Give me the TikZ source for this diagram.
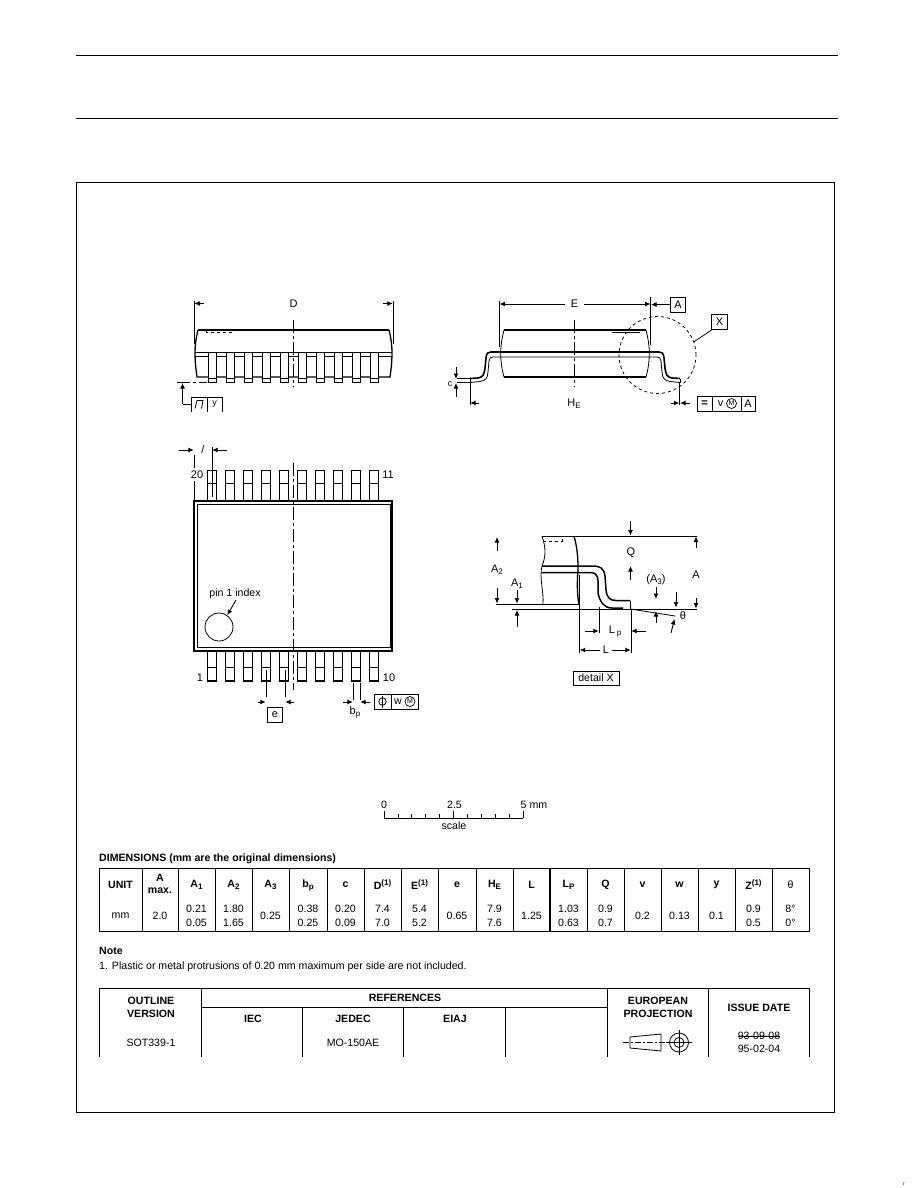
\documentclass[tikz,border=0pt]{standalone}
\usepackage{fontspec}
\setmainfont{Liberation Sans}
\usetikzlibrary{arrows.meta}
\newcommand{\subs}[1]{\raisebox{-0.35ex}{\fontsize{8}{9}\selectfont #1}}
\newcommand{\sups}[1]{\raisebox{0.7ex}{\fontsize{8}{9}\selectfont #1}}
\tikzstyle{thinline}=[line width=0.8pt]
\tikzstyle{thickline}=[line width=2pt]
\tikzstyle{midline}=[line width=1.3pt]
\tikzstyle{centerline}=[line width=0.8pt,dash pattern=on 13pt off 3pt on 3pt off 3pt]
\tikzstyle{dimedge}=[-{Latex[length=5.5pt,width=5pt]},line width=0.9pt]
\tikzstyle{dimtext}=[font=\fontsize{11}{13}\selectfont,inner sep=0pt]
\tikzstyle{smalltext}=[font=\fontsize{10.6}{12}\selectfont,inner sep=0pt]
\tikzstyle{headtext}=[font=\fontsize{10.6}{12}\selectfont\bfseries,inner sep=0pt]
\tikzstyle{markcircle}=[circle,draw,line width=0.7pt,inner sep=0pt,minimum size=10pt,font=\fontsize{7}{8}\selectfont]
\begin{document}
\begin{tikzpicture}[x=1pt,y=-1pt]
\useasboundingbox (0,0) rectangle (918,1188);
% page rules and frame
\draw[thinline] (76,55) -- (838,55);
\draw[thinline] (76,118) -- (838,118);
\draw[thinline] (76,182) rectangle (834,1112);
% front view
\draw[thickline] (198,330) -- (389,330);
\draw[midline] (198,330) .. controls (196,338) and (195,345) .. (195,352) .. controls (195,362) and (196,370) .. (197,377) -- (390,377) .. controls (391,370) and (392,362) .. (392,352) .. controls (392,345) and (391,338) .. (389,330);
\draw[thinline,dashed] (206,331) -- (206,332.5) -- (233,332.5) -- (233,331);
\draw[thinline] (195,352) -- (392,352);
\draw[thinline] (195,356) -- (392,356);
\foreach \i in {0,...,9}{
  \fill[white] (208.7+18*\i,352) rectangle (216.7+18*\i,382);
  \draw[thinline] (208.7+18*\i,352) rectangle (216.7+18*\i,382);
  \draw[thinline] (208.7+18*\i,378) -- (216.7+18*\i,378);
  \draw[midline] (216.7+18*\i,356) -- (216.7+18*\i,382);
}
\draw[centerline] (293.3,320) -- (293.3,387);
\draw[thinline] (194.3,301) -- (194.3,344);
\draw[thinline] (393,301) -- (393,344);
\draw[dimedge] (204,303.5) -- (194.5,303.5);
\draw[dimedge] (383,303.5) -- (392.8,303.5);
\node[dimtext] (labelD) at (293.5,303.5) {D};
\draw[centerline] (177,382) -- (207,382);
\draw[dimedge] (182.5,404) -- (182.5,383);
\draw[thinline] (182.5,404) -- (191,404);
\draw[thinline] (191,412) -- (191,397) -- (222,397) -- (222,412);
\draw[thinline] (207,397) -- (207,412);
\draw[thinline] (195,408.5) -- (197,400.5) -- (203,400.5) -- (201.5,408.5);
\node[dimtext] (labelFlatY) at (214.5,404.5) {\fontsize{9}{10}\selectfont y};
% side view
\draw[midline] (504,330) -- (646,330);
\draw[midline] (504,377) -- (646,377);
\draw[thinline] (504,330) .. controls (502,338) and (500.7,345) .. (500.7,353) .. controls (500.7,362) and (502,370) .. (504,377);
\draw[thinline] (646,330) .. controls (648,338) and (649.3,345) .. (649.3,353) .. controls (649.3,362) and (648,370) .. (646,377);
\draw[thinline] (612,332) -- (640,332);
\draw[line width=1.6pt] (470,378.5) -- (478,378) .. controls (483,377) and (484,375) .. (485,368) -- (486,358) .. controls (486.5,353) and (488,352) .. (491,352) -- (659,352) .. controls (662,352) and (663.5,353) .. (664,358) -- (665,368) .. controls (666,375) and (667,377) .. (672,378) -- (680,378.5);
\draw[thinline] (470,382.5) -- (480,381.5) .. controls (486,380.5) and (487.5,378) .. (488,372) -- (489,361) .. controls (489.5,358) and (490.5,357) .. (493,357) -- (657,357) .. controls (659.5,357) and (660.5,358) .. (661,361) -- (662,372) .. controls (662.5,378) and (664,380.5) .. (670,381.5) -- (680,382.5);
\draw[thinline] (470,378.5) -- (470,382.5);
\draw[thinline] (680,378.5) -- (680,382.5);
\draw[centerline] (574,320) -- (574,387);
\node[draw,circle,dashed,thinline,minimum size=77pt,inner sep=0pt] (circleX) at (657.5,355) {};
\node[draw,thinline,minimum size=15.5pt,inner sep=0pt,dimtext] (boxX) at (719.5,322) {X};
\draw[thinline] (circleX.20) -- (boxX.south west);
\draw[thinline] (499.3,301) -- (499.3,347);
\draw[thinline] (650.7,297) -- (650.7,345);
\node[dimtext] (labelE) at (574.5,304) {E};
\draw[dimedge] (565,304) -- (499.5,304);
\draw[dimedge] (584,304) -- (650.5,304);
\node[draw,thinline,minimum size=15pt,inner sep=0pt,dimtext] (boxA) at (678,304.5) {A};
\draw[dimedge] (boxA.west) -- (651,304.5);
\node[dimtext] (labelC) at (450,384) {\fontsize{9}{10}\selectfont c};
\draw[dimedge] (456,367) -- (456,379);
\draw[dimedge] (456,397) -- (456,383);
\draw[thinline] (457,378.5) -- (470,378.5);
\draw[thinline] (457,382.5) -- (470,382.5);
\draw[thinline] (470,383) -- (470,405);
\draw[thinline] (679.5,383) -- (679.5,405);
\draw[dimedge] (479,403) -- (470.2,403);
\draw[dimedge] (671,403) -- (679.3,403);
\draw[dimedge] (690,403) -- (680,403);
\node[dimtext] (labelHE) at (574,403.5) {H\subs{E}};
\draw[thinline] (697,396) rectangle (755,411);
\draw[thinline] (712,396) -- (712,411);
\draw[thinline] (741,396) -- (741,411);
\node[dimtext] (markEq) at (704.5,403.5) {\textbf{=}};
\node[dimtext] (markV) at (720.5,403.5) {v};
\node[markcircle] (markM1) at (731.5,403.5) {M};
\node[dimtext] (markA1) at (748,403.5) {A};
% plan view
\foreach \i in {0,...,9}{
  \draw[midline] (207.7+18*\i,501) -- (207.7+18*\i,470.7) -- (216.7+18*\i,470.7) -- (216.7+18*\i,501);
  \draw[thinline] (207.7+18*\i,483) -- (216.7+18*\i,483);
  \draw[midline] (207.7+18*\i,651.7) -- (207.7+18*\i,681) -- (216.7+18*\i,681) -- (216.7+18*\i,651.7);
  \draw[thinline] (207.7+18*\i,667) -- (216.7+18*\i,667);
}
\draw[thickline] (194,501) rectangle (392,651);
\draw[thinline] (197,504) rectangle (390,647);
\draw[centerline] (293.3,463) -- (293.3,690);
\node[dimtext] (pin20) at (197,475) {20};
\node[dimtext] (pin11) at (388,475) {11};
\node[dimtext] (pin1) at (200,678) {1};
\node[dimtext] (pin10) at (389,678) {10};
\node[smalltext] (pinIndex) at (235,594) {pin 1 index};
\node[draw,circle,thinline,minimum size=28pt,inner sep=0pt] (pinCircle) at (219,627) {};
\draw[dimedge] (236,600) -- (pinCircle.55);
\draw[thinline] (194,455) -- (194,468);
\draw[thinline] (194,481) -- (194,500);
\draw[thinline] (212,447) -- (212,497);
\draw[dimedge] (179,450) -- (193.8,450);
\draw[dimedge] (227,450) -- (212.2,450);
\node[dimtext] (labelW) at (203,450) {/};
\draw[thinline] (266,670) -- (266,697);
\draw[thinline] (285,670) -- (285,697);
\draw[dimedge] (258,702) -- (265.8,702);
\draw[dimedge] (294,702) -- (285.2,702);
\node[draw,thinline,minimum size=15pt,inner sep=0pt,dimtext] (boxe) at (275,714.5) {e};
\draw[thinline] (353,683) -- (353,700);
\draw[thinline] (360,683) -- (360,700);
\draw[dimedge] (343,702) -- (352.8,702);
\draw[dimedge] (370,702) -- (360.2,702);
\node[dimtext] (labelBp) at (355,712) {b\subs{p}};
\draw[thinline] (374,694) rectangle (418,709);
\draw[thinline] (391,694) -- (391,709);
\node[draw,circle,thinline,minimum size=7.5pt,inner sep=0pt] (markPos) at (382.5,701.5) {};
\draw[thinline] (382.5,695.5) -- (382.5,707.5);
\node[smalltext] (markW) at (398,701.5) {w};
\node[markcircle] (markM2) at (410,701.5) {M};
% detail X
\draw[thinline] (542,536) -- (574,536);
\draw[thinline] (496,604) -- (580,604);
\draw[thinline] (512,609) -- (697,609);
\draw[thinline] (574,536) -- (697,536);
\draw[thinline] (542,536) .. controls (546,548) and (546,556) .. (542,566) .. controls (539,578) and (544,592) .. (543,604);
\draw[midline] (574,536) .. controls (578,550) and (578,562) .. (578,570) .. controls (577,582) and (577,594) .. (579,604);
\draw[thinline,dashed] (543,541) -- (562,541) -- (562,536);
\draw[line width=1.5pt] (542,566) -- (592,566) .. controls (600,566) and (604,568) .. (605,576) -- (606,590) .. controls (607,598) and (610,600.5) .. (616,600.5) -- (630,600.5);
\draw[line width=1.5pt] (542,572.5) -- (590,572.5) .. controls (595,572.5) and (598,575) .. (598,581) -- (598,593) .. controls (600,602) and (604,608) .. (612,608) -- (623,608);
\draw[thinline] (630.5,600.5) -- (630.5,609);
\node[dimtext] (labelQ) at (631,553) {Q};
\draw[dimedge] (630.5,521) -- (630.5,535.5);
\draw[dimedge] (630.5,580) -- (630.5,566);
\draw[dimedge] (696,548) -- (696,536.5);
\draw[dimedge] (696,598) -- (696,608.5);
\node[dimtext] (labelA) at (696,575) {A};
\draw[dimedge] (497,551) -- (497,537);
\draw[dimedge] (497,588) -- (497,603.5);
\node[dimtext] (labelA2) at (497,570) {A\subs{2}};
\draw[dimedge] (517,590) -- (517,603.5);
\draw[dimedge] (517,627) -- (517,610);
\node[dimtext] (labelA1) at (517,584) {A\subs{1}};
\node[dimtext] (labelA3) at (656,580) {(A\subs{3})};
\draw[dimedge] (656,587) -- (656,599);
\draw[dimedge] (656,623) -- (656,611);
\draw[dimedge] (676,592) -- (676,607.5);
\draw[thinline] (630.5,609) -- (675,616);
\node[dimtext] (labelTheta) at (683,616) {θ};
\draw[dimedge] (671,633) -- (674.5,619);
\draw[thinline] (599,607) -- (599,633);
\draw[thinline] (631,609) -- (631,653);
\draw[thinline] (579.5,575) -- (579.5,653);
\draw[dimedge] (585,631) -- (598.8,631);
\draw[dimedge] (646,631) -- (631.2,631);
\node[dimtext] (labelLp) at (615,632) {L\,\subs{p}};
\node[dimtext] (labelL) at (606,650) {L};
\draw[dimedge] (600,650) -- (579.7,650);
\draw[dimedge] (612,650) -- (630.8,650);
\node[draw,thinline,minimum width=46pt,minimum height=14pt,inner sep=0pt,smalltext] (boxDetail) at (596,678) {detail X};
% scale
\draw[thinline] (384,818) -- (523,818);
\foreach \i in {0,...,10}{
  \draw[thinline] (384+13.9*\i,818) -- (384+13.9*\i,814);
}
\draw[thinline] (384,818) -- (384,811);
\draw[thinline] (453.5,818) -- (453.5,811);
\draw[thinline] (523,818) -- (523,811);
\node[smalltext] (scale0) at (384,805) {0};
\node[smalltext] (scale25) at (454.5,805) {2.5};
\node[smalltext,anchor=west] (scale5) at (520.5,805) {5 mm};
\node[smalltext] (scaleName) at (454,826) {scale};
% dimensions table
\node[headtext,anchor=west] (tableTitle) at (99,859) {DIMENSIONS (mm are the original dimensions)};
\draw[thinline] (99,868) rectangle (809,931);
\foreach \x in {142,178,215,252,289,327,364,401,438,476,513,587,624,661,698,735,772}{
  \draw[thinline] (\x,868) -- (\x,931);
}
\draw[thickline] (550,868) -- (550,931);
\foreach \x/\head in {120.5/UNIT,196.5/A\subs{1},233.5/A\subs{2},270.5/A\subs{3},308/b\subs{p},345.5/c,382.5/D\sups{(1)},419.5/E\sups{(1)},457/e,494.5/H\subs{E},531.5/L,568.5/L\subs{P},605.5/Q,642.5/v,679.5/w,716.5/y,753.5/Z\sups{(1)}}{
  \node[headtext] at (\x,885) {\head};
}
\node[smalltext] (headTheta) at (790.5,885) {θ};
\node[headtext] (headA) at (160,878) {A};
\node[headtext] (headMax) at (160,891) {max.};
\foreach \x/\val in {120.5/mm,160/2.0,270.5/0.25,457/0.65,531.5/1.25,642.5/0.2,679.5/0.13,716.5/0.1}{
  \node[smalltext] at (\x,916) {\val};
}
\foreach \x/\valtop/\valbot in {196.5/0.21/0.05,233.5/1.80/1.65,308/0.38/0.25,345.5/0.20/0.09,382.5/7.4/7.0,419.5/5.4/5.2,494.5/7.9/7.6,568.5/1.03/0.63,605.5/0.9/0.7,753.5/0.9/0.5,790.5/8°/0°}{
  \node[smalltext] at (\x,909) {\valtop};
  \node[smalltext] at (\x,923) {\valbot};
}
% note
\node[headtext,anchor=west] (noteHead) at (99,951) {Note};
\node[smalltext,anchor=west] (noteText) at (99,967) {1. Plastic or metal protrusions of 0.20 mm maximum per side are not included.};
% outline table
\draw[thinline] (99,1057) -- (99,988) -- (809,988) -- (809,1057);
\draw[thinline] (201,1007) -- (607,1007);
\foreach \x in {201,607,708}{
  \draw[thinline] (\x,988) -- (\x,1057);
}
\foreach \x in {302,403,505}{
  \draw[thinline] (\x,1007) -- (\x,1057);
}
\node[headtext] (outlineA) at (151,1001) {OUTLINE};
\node[headtext] (outlineB) at (151,1013.5) {VERSION};
\node[smalltext] (outlineVal) at (151,1043) {SOT339-1};
\node[headtext] (refHead) at (405,998) {REFERENCES};
\node[headtext] (refIEC) at (253,1019) {IEC};
\node[headtext] (refJEDEC) at (353,1019) {JEDEC};
\node[headtext] (refEIAJ) at (455,1019) {EIAJ};
\node[smalltext] (refVal) at (353,1043) {MO-150AE};
\node[headtext] (euroA) at (658,1001) {EUROPEAN};
\node[headtext] (euroB) at (658,1014) {PROJECTION};
\node[headtext] (issueHead) at (759,1008) {ISSUE DATE};
\node[smalltext] (issueOld) at (759,1036) {93-09-08};
\draw[thinline] (issueOld.west) -- (issueOld.east);
\node[smalltext] (issueNew) at (759,1049) {95-02-04};
% projection symbol
\draw[thinline] (630,1037) -- (661,1034) -- (661,1051) -- (630,1048) -- cycle;
\draw[thinline,dash pattern=on 6pt off 2pt on 2pt off 2pt] (623,1042.5) -- (667,1042.5);
\node[draw,circle,thinline,minimum size=19pt,inner sep=0pt] (projOuter) at (679,1042.5) {};
\node[draw,circle,thinline,minimum size=10pt,inner sep=0pt] (projInner) at (679,1042.5) {};
\draw[thinline] (666,1042.5) -- (692,1042.5);
\draw[thinline] (679,1030) -- (679,1055);
% page corner mark
\node[font=\fontsize{5}{6}\selectfont,inner sep=0pt] (cornerMark) at (904,1184.5) {r};
\end{tikzpicture}
\end{document}
